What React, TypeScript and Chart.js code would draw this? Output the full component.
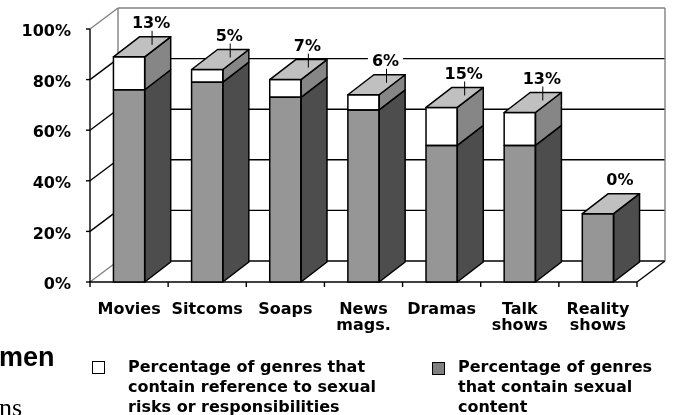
import React, { useEffect, useRef } from 'react';
import { Chart, registerables } from 'chart.js';

Chart.register(...registerables);

// ---- data ----
const categories: (string | string[])[] = ['Movies', 'Sitcoms', 'Soaps', ['News', 'mags.'], 'Dramas', ['Talk', 'shows'], ['Reality', 'shows']];
const sexualContent = [76, 79, 73, 68, 54, 54, 27];
const riskReference = [13, 5, 7, 6, 15, 13, 0];
const yMin = 0;
const yMax = 100;
const yStep = 20;
const legendRisk = ['Percentage of genres that', 'contain reference to sexual', 'risks or responsibilities'];
const legendContent = ['Percentage of genres', 'that contain sexual', 'content'];

const FONT = "'DejaVu Sans', Verdana, sans-serif";
const WALL_DX = 28;
const WALL_DY = -21;
const BAR_DX = 26;
const BAR_DY = -20;

function seg(ctx: CanvasRenderingContext2D, x1: number, y1: number, x2: number, y2: number) {
  ctx.beginPath();
  ctx.moveTo(x1, y1);
  ctx.lineTo(x2, y2);
  ctx.stroke();
}

function poly(ctx: CanvasRenderingContext2D, pts: number[][], fill: string) {
  ctx.beginPath();
  ctx.moveTo(pts[0][0], pts[0][1]);
  for (let i = 1; i < pts.length; i++) ctx.lineTo(pts[i][0], pts[i][1]);
  ctx.closePath();
  ctx.fillStyle = fill;
  ctx.fill();
  ctx.stroke();
}

const threeD = {
  id: 'threeD',
  beforeDatasetsDraw(chart: any) {
    const { ctx, chartArea } = chart;
    const { left, right, top, bottom } = chartArea;
    const y = chart.scales.y;
    ctx.save();
    ctx.lineWidth = 1.4;
    const values: number[] = [];
    for (let v = yMin; v <= yMax; v += yStep) values.push(v);
    for (const v of values) {
      const py = y.getPixelForValue(v);
      ctx.strokeStyle = v === yMax ? '#808080' : '#000';
      seg(ctx, left + WALL_DX, py + WALL_DY, right + WALL_DX, py + WALL_DY);
      ctx.strokeStyle = v === yMax || v === yMin ? '#808080' : '#000';
      seg(ctx, left, py, left + WALL_DX, py + WALL_DY);
      ctx.strokeStyle = '#000';
      seg(ctx, left - 4, py, left, py);
    }
    ctx.strokeStyle = '#808080';
    seg(ctx, left + WALL_DX, top + WALL_DY, left + WALL_DX, bottom + WALL_DY);
    seg(ctx, right + WALL_DX, top + WALL_DY, right + WALL_DX, bottom + WALL_DY);
    ctx.strokeStyle = '#000';
    seg(ctx, right, bottom, right + WALL_DX, bottom + WALL_DY);
    seg(ctx, left, top, left, bottom);
    seg(ctx, left, bottom, right, bottom);
    const n = categories.length;
    for (let i = 0; i <= n; i++) {
      const px = left + (i * (right - left)) / n;
      seg(ctx, px, bottom, px, bottom + 5);
    }
    ctx.restore();
  },
  afterDatasetsDraw(chart: any) {
    const { ctx } = chart;
    const m0 = chart.getDatasetMeta(0);
    const m1 = chart.getDatasetMeta(1);
    ctx.save();
    ctx.lineWidth = 1.5;
    ctx.strokeStyle = '#000';
    ctx.lineJoin = 'round';
    for (let i = 0; i < categories.length; i++) {
      const g = m0.data[i].getProps(['x', 'y', 'base', 'width'], true);
      const w = m1.data[i].getProps(['x', 'y', 'base', 'width'], true);
      const xl = g.x - g.width / 2;
      const xr = g.x + g.width / 2;
      const segs = [{ t: g.y, b: g.base, side: '#4d4d4d' }];
      if (riskReference[i] > 0) segs.push({ t: w.y, b: w.base, side: '#868686' });
      for (const s of segs) {
        poly(ctx, [[xr, s.t], [xr + BAR_DX, s.t + BAR_DY], [xr + BAR_DX, s.b + BAR_DY], [xr, s.b]], s.side);
        ctx.strokeRect(xl, s.t, xr - xl, s.b - s.t);
      }
      const topY = segs[segs.length - 1].t;
      poly(ctx, [[xl, topY], [xl + BAR_DX, topY + BAR_DY], [xr + BAR_DX, topY + BAR_DY], [xr, topY]], '#c0c0c0');
    }
    ctx.restore();
  },
  afterDraw(chart: any) {
    const { ctx } = chart;
    const m0 = chart.getDatasetMeta(0);
    const m1 = chart.getDatasetMeta(1);
    ctx.save();
    ctx.font = `bold 16px ${FONT}`;
    ctx.textAlign = 'center';
    ctx.textBaseline = 'middle';
    ctx.lineWidth = 1;
    ctx.strokeStyle = '#000';
    for (let i = 0; i < categories.length; i++) {
      const g = m0.data[i].getProps(['x'], true);
      const w = m1.data[i].getProps(['y'], true);
      const topY = w.y;
      const cx = g.x + 22;
      const cy = topY - 34;
      const text = riskReference[i] + '%';
      const tw = ctx.measureText(text).width;
      ctx.fillStyle = '#fff';
      ctx.fillRect(cx - tw / 2 - 4, cy - 8, tw + 8, 16);
      ctx.fillStyle = '#000';
      ctx.fillText(text, cx, cy + 1);
      if (riskReference[i] > 0) seg(ctx, cx + 1, cy + 8, cx + 1, topY - 12);
    }
    ctx.restore();
  },
};

export default function App() {
  const ref = useRef<HTMLCanvasElement | null>(null);
  useEffect(() => {
    if (!ref.current) return;
    const chart = new Chart(ref.current, {
      type: 'bar',
      data: {
        labels: categories as any,
        datasets: [
          {
            label: 'Percentage of genres that contain sexual content',
            data: sexualContent,
            backgroundColor: '#969696',
            borderWidth: 0,
            categoryPercentage: 1,
            barPercentage: 0.4,
          },
          {
            label: 'Percentage of genres that contain reference to sexual risks or responsibilities',
            data: riskReference,
            backgroundColor: '#ffffff',
            borderWidth: 0,
            categoryPercentage: 1,
            barPercentage: 0.4,
          },
        ],
      },
      options: {
        responsive: false,
        animation: false,
        devicePixelRatio: 1,
        layout: { padding: { top: 29, right: 36, bottom: 73, left: 0 } },
        plugins: { legend: { display: false }, tooltip: { enabled: false } },
        scales: {
          x: {
            stacked: true,
            grid: { display: false, drawTicks: false },
            border: { display: false },
            afterFit: (s: any) => { s.height = 60; },
            ticks: {
              color: '#000',
              padding: 20,
              maxRotation: 0,
              autoSkip: false,
              font: { family: FONT, size: 16, weight: 'bold', lineHeight: 1 },
            },
          },
          y: {
            stacked: true,
            min: yMin,
            max: yMax,
            grid: { display: false, drawTicks: false },
            border: { display: false },
            afterFit: (s: any) => { s.width = 90; },
            ticks: {
              stepSize: yStep,
              color: '#000',
              padding: 19,
              labelOffset: 3,
              callback: (v: any) => v + '%',
              font: { family: FONT, size: 16, weight: 'bold' },
            },
          },
        },
      },
      plugins: [threeD],
    });
    return () => chart.destroy();
  }, []);

  const legendText: React.CSSProperties = {
    position: 'absolute',
    font: `bold 16px/20px ${FONT}`,
    whiteSpace: 'nowrap',
    color: '#000',
  };
  const square: React.CSSProperties = {
    position: 'absolute',
    width: 13,
    height: 13,
    border: '1px solid #000',
    boxSizing: 'border-box',
  };

  return (
    <div style={{ position: 'fixed', left: 0, top: 0, width: 673, height: 415, overflow: 'hidden', background: '#fff' }}>
      <canvas ref={ref} width={673} height={415} style={{ position: 'absolute', left: 0, top: 0, width: 673, height: 415 }} />
      <div style={{ position: 'absolute', left: -1, top: 344, font: "bold 27px/27px 'Liberation Sans', Arial, sans-serif", color: '#000' }}>men</div>
      <div style={{ position: 'absolute', left: -1, top: 395, font: "26px/26px 'Liberation Serif', 'Times New Roman', serif", color: '#000' }}>ns</div>
      <div style={{ ...square, left: 92, top: 361, background: '#fff' }} />
      <div style={{ ...legendText, left: 128, top: 357 }}>
        {legendRisk.map((l, i) => (<div key={i}>{l}</div>))}
      </div>
      <div style={{ ...square, left: 432, top: 362, background: '#808080' }} />
      <div style={{ ...legendText, left: 458, top: 357 }}>
        {legendContent.map((l, i) => (<div key={i}>{l}</div>))}
      </div>
    </div>
  );
}
